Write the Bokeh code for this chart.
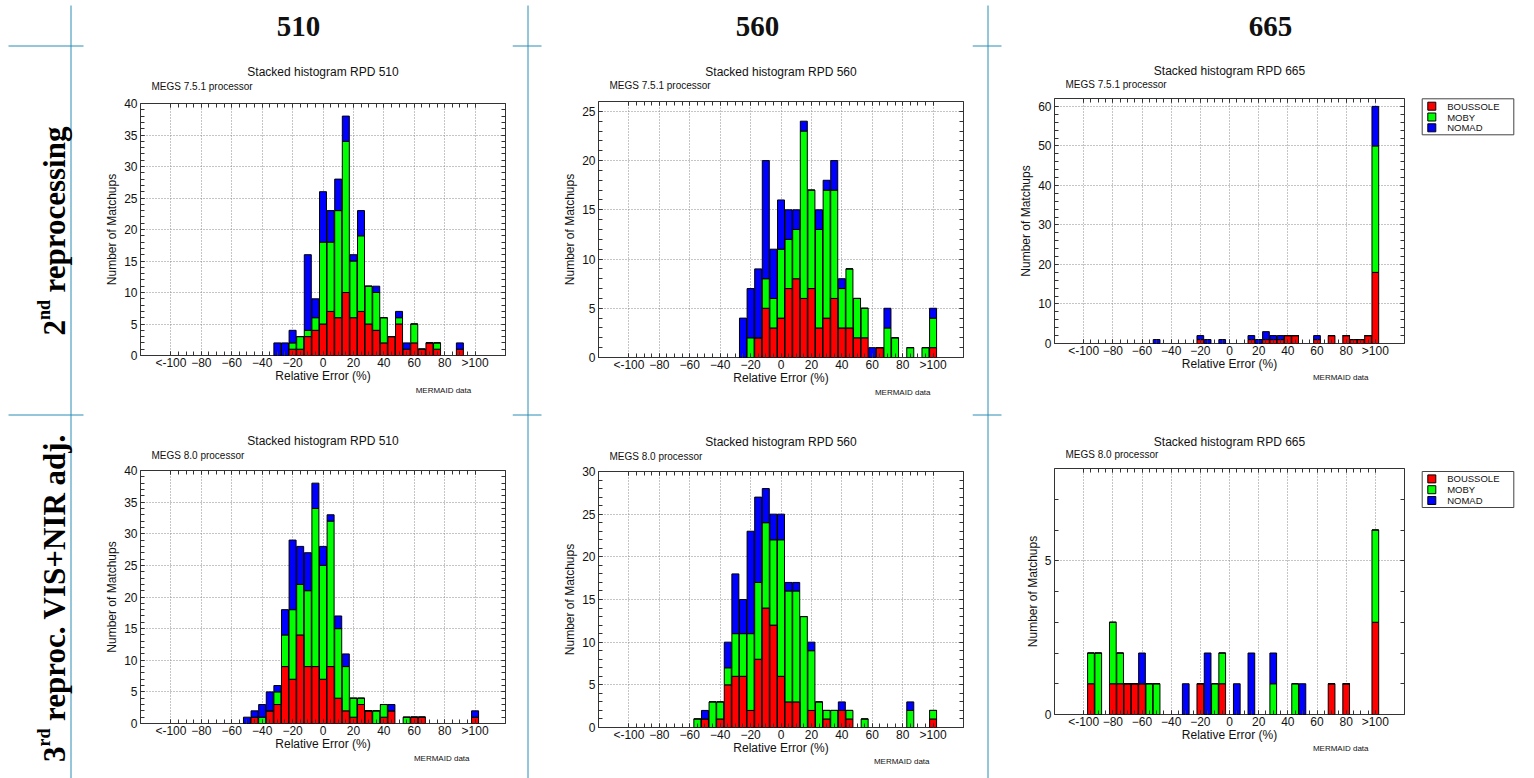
import math
from bokeh.plotting import figure
from bokeh.layouts import row, column
from bokeh.models import (Range1d, FixedTicker, LinearAxis, Grid,
                          ColumnDataSource, CustomJSTickFormatter)
from bokeh.core.properties import value
from bokeh.embed import file_html
from bokeh.resources import INLINE

# Matchup counts per 5 % relative-error bin (bin centre), split by in-situ site.

# 2nd reprocessing, MEGS 7.5.1, 510 nm
BINS_510_R2 = [-30, -25, -20, -15, -10, -5, 0, 5, 10, 15, 20, 25, 30, 35, 40, 45, 50, 55, 60, 65, 70, 75, 90]
BOUSSOLE_510_R2 = [0, 0, 1, 1, 3, 4, 5, 7, 6, 10, 6, 7, 5, 4, 2, 3, 5, 1, 2, 1, 2, 1, 1]
MOBY_510_R2 = [0, 0, 1, 2, 1, 2, 13, 11, 17, 24, 9, 12, 6, 6, 4, 0, 1, 0, 3, 0, 0, 1, 0]
NOMAD_510_R2 = [2, 2, 2, 0, 12, 3, 8, 5, 5, 4, 1, 4, 0, 1, 0, 0, 1, 1, 0, 0, 0, 0, 1]

# 2nd reprocessing, MEGS 7.5.1, 560 nm
BINS_560_R2 = [-25, -20, -15, -10, -5, 0, 5, 10, 15, 20, 25, 30, 35, 40, 45, 50, 55, 60, 65, 70, 75, 85, 95, 100]
BOUSSOLE_560_R2 = [0, 0, 2, 5, 3, 4, 7, 8, 6, 7, 3, 4, 6, 3, 3, 2, 2, 0, 1, 0, 0, 0, 0, 1]
MOBY_560_R2 = [0, 2, 0, 3, 3, 7, 5, 5, 17, 10, 10, 13, 11, 4, 6, 4, 3, 0, 0, 3, 2, 1, 1, 3]
NOMAD_560_R2 = [4, 5, 7, 12, 5, 5, 3, 2, 1, 0, 2, 1, 3, 1, 0, 0, 0, 1, 0, 2, 0, 0, 0, 1]

# 2nd reprocessing, MEGS 7.5.1, 665 nm
BINS_665_R2 = [-50, -20, -15, -5, 15, 20, 25, 30, 35, 40, 45, 60, 70, 80, 85, 90, 95, 100]
BOUSSOLE_665_R2 = [0, 1, 0, 0, 1, 0, 1, 1, 1, 2, 2, 1, 2, 2, 1, 1, 2, 18]
MOBY_665_R2 = [0, 0, 0, 0, 0, 0, 0, 0, 0, 0, 0, 0, 0, 0, 0, 0, 0, 32]
NOMAD_665_R2 = [1, 1, 1, 1, 1, 1, 2, 1, 1, 0, 0, 1, 0, 0, 0, 0, 0, 10]

# 3rd reprocessing (VIS+NIR adjustment), MEGS 8.0, 510 nm
BINS_510_R3 = [-50, -45, -40, -35, -30, -25, -20, -15, -10, -5, 0, 5, 10, 15, 20, 25, 30, 35, 40, 45, 55, 60, 65, 100]
BOUSSOLE_510_R3 = [0, 1, 0, 2, 3, 9, 7, 14, 9, 9, 7, 9, 4, 2, 1, 3, 2, 0, 1, 2, 0, 1, 1, 1]
MOBY_510_R3 = [0, 0, 1, 0, 2, 5, 11, 8, 12, 25, 18, 23, 11, 7, 3, 1, 0, 2, 2, 0, 1, 0, 0, 0]
NOMAD_510_R3 = [1, 1, 2, 3, 1, 4, 11, 6, 6, 4, 3, 1, 2, 2, 0, 0, 0, 0, 0, 1, 0, 0, 0, 1]

# 3rd reprocessing (VIS+NIR adjustment), MEGS 8.0, 560 nm
BINS_560_R3 = [-55, -50, -45, -40, -35, -30, -25, -20, -15, -10, -5, 0, 5, 10, 15, 20, 25, 30, 35, 40, 45, 55, 85, 100]
BOUSSOLE_560_R3 = [0, 1, 0, 1, 5, 6, 6, 2, 8, 14, 12, 6, 3, 3, 0, 2, 0, 1, 0, 2, 1, 0, 0, 1]
MOBY_560_R3 = [1, 0, 3, 2, 2, 5, 5, 9, 9, 10, 10, 16, 13, 13, 13, 7, 3, 1, 2, 0, 1, 1, 2, 1]
NOMAD_560_R3 = [0, 1, 0, 0, 3, 7, 4, 12, 10, 4, 3, 3, 1, 1, 0, 1, 0, 0, 0, 1, 0, 0, 1, 0]

# 3rd reprocessing (VIS+NIR adjustment), MEGS 8.0, 665 nm
BINS_665_R3 = [-95, -90, -80, -75, -70, -65, -60, -55, -50, -30, -20, -15, -10, -5, 5, 15, 30, 45, 50, 70, 80, 100]
BOUSSOLE_665_R3 = [1, 0, 1, 1, 1, 1, 1, 0, 0, 0, 1, 0, 0, 1, 0, 0, 0, 0, 0, 1, 1, 3]
MOBY_665_R3 = [1, 2, 2, 1, 0, 0, 0, 1, 1, 0, 0, 0, 1, 1, 0, 0, 1, 1, 0, 0, 0, 3]
NOMAD_665_R3 = [0, 0, 0, 0, 0, 0, 1, 0, 0, 1, 0, 2, 0, 0, 1, 2, 1, 0, 1, 0, 0, 0]

SITES = ["BOUSSOLE", "MOBY", "NOMAD"]
SITE_COLORS = ["#ff0000", "#00ff00", "#0000ff"]

X_TICKS = [-100, -80, -60, -40, -20, 0, 20, 40, 60, 80, 100]
X_TICK_LABELS = {-100: "<-100", 100: ">100"}
X_MINOR = list(range(-100, 101, 5))

BANDS = ["510", "560", "665"]
PROCESSORS = ["MEGS 7.5.1 processor", "MEGS 8.0 processor"]
TITLE_PREFIX = "Stacked histogram RPD "
DATA_NOTE = "MERMAID data"

# ---- styling ----
PAGE_H = 778
TEAL = "#2a8db3"
SANS = "Liberation Sans"
SERIF = "Liberation Serif"
INK = "#111111"
FRAME = "#333333"
GRID = "#8a8a8a"


def blank_canvas(width, height, left=0, right=0):
    f = figure(title=None, frame_width=width, frame_height=height,
               x_range=Range1d(0, width), y_range=Range1d(0, height),
               x_axis_type=None, y_axis_type=None, min_border=0,
               min_border_left=left, min_border_right=right,
               toolbar_location=None, tools="", output_backend="svg")
    f.outline_line_color = None
    return f


def text_strip(col, y0, height, items):
    """A white strip (same frame as the column's panels) holding texts placed in page pixels."""
    x0, left, fw, right = col
    f = blank_canvas(fw, height, left, right)
    fx = x0 + left
    for px, py, text, size, align, font, style in items:
        f.text(x=[px - fx], y=[height - (py - y0)], text=[text],
               text_font=value(font), text_font_size=size, text_font_style=style,
               text_align=align, text_baseline="middle", text_color=INK)
    return f


def stacked_panel(bins, boussole, moby, nomad, y_max, y_step, y_minor, col, top, fh, bottom):
    _, left, fw, right = col
    p = figure(title=None, frame_width=fw, frame_height=fh,
               min_border_left=left, min_border_right=right,
               min_border_top=top, min_border_bottom=bottom,
               x_range=Range1d(-120, 120), y_range=Range1d(0, y_max),
               x_axis_type=None, y_axis_type=None,
               toolbar_location=None, tools="", output_backend="svg")
    p.outline_line_color = FRAME
    p.outline_line_width = 1

    xt = FixedTicker(ticks=X_TICKS, minor_ticks=X_MINOR)
    y_top_tick = (y_max // y_step) * y_step
    yt = FixedTicker(ticks=list(range(0, y_top_tick + 1, y_step)),
                     minor_ticks=list(range(0, y_max + 1, y_minor)))

    ticks = dict(axis_line_color=None, major_tick_in=4, major_tick_out=0,
                 minor_tick_in=4, minor_tick_out=0,
                 major_tick_line_color=FRAME, minor_tick_line_color=FRAME)
    labels = dict(major_label_text_font=SANS, major_label_text_font_size="12px",
                  major_label_text_color=INK, axis_label_text_font=SANS,
                  axis_label_text_font_size="12px", axis_label_text_font_style="normal",
                  axis_label_text_color=INK)

    p.add_layout(LinearAxis(ticker=xt, axis_label="Relative Error (%)",
                            major_label_overrides=X_TICK_LABELS,
                            major_label_standoff=0, axis_label_standoff=-4,
                            **ticks, **labels), "below")
    p.add_layout(LinearAxis(ticker=yt, axis_label="Number of Matchups",
                            major_label_standoff=3, axis_label_standoff=2,
                            **ticks, **labels), "left")
    for side, t in (("above", xt), ("right", yt)):
        p.add_layout(LinearAxis(ticker=t, formatter=CustomJSTickFormatter(code="return ''"),
                                major_label_standoff=0, major_label_text_font_size="1px",
                                **ticks), side)

    p.add_layout(Grid(dimension=0, ticker=xt, grid_line_color=GRID,
                      grid_line_dash="1 2", grid_line_width=1))
    p.add_layout(Grid(dimension=1, ticker=yt, grid_line_color=GRID,
                      grid_line_dash="1 2", grid_line_width=1))

    src = ColumnDataSource(dict(x=bins, BOUSSOLE=boussole, MOBY=moby, NOMAD=nomad))
    p.vbar_stack(SITES, x="x", width=4.6, source=src,
                 fill_color=SITE_COLORS, line_color="black", line_width=1)
    return p


HEAD = ("29px", "center", SERIF, "bold")
TITLE = ("12px", "center", SANS, "normal")
SUB = ("10px", "left", SANS, "normal")
NOTE = ("8px", "right", SANS, "normal")


def item(x, y, text, style):
    return (x, y, text) + style


# column geometry: page x of column, left border, frame width, right border
COL1 = (90, 50, 365, 7)
COL2 = (542, 56, 365, 9)
COL3 = (1002, 52, 350, 4)

c1 = column(
    text_strip(COL1, 0, 95, [item(298, 26, BANDS[0], HEAD),
                             item(322.5, 71.5, TITLE_PREFIX + BANDS[0], TITLE),
                             item(151, 86, PROCESSORS[0], SUB)]),
    stacked_panel(BINS_510_R2, BOUSSOLE_510_R2, MOBY_510_R2, NOMAD_510_R2,
                  40, 5, 1, COL1, 8, 252, 29),
    text_strip(COL1, 384, 77, [item(470.7, 389.3, DATA_NOTE, NOTE),
                               item(322.5, 439, TITLE_PREFIX + BANDS[0], TITLE),
                               item(151, 454, PROCESSORS[1], SUB)]),
    stacked_panel(BINS_510_R3, BOUSSOLE_510_R3, MOBY_510_R3, NOMAD_510_R3,
                  40, 5, 1, COL1, 8, 253, 29),
    text_strip(COL1, 751, 27, [item(469, 755.5, DATA_NOTE, NOTE)]),
)
c2 = column(
    text_strip(COL2, 0, 93, [item(757, 26, BANDS[1], HEAD),
                             item(780.5, 71, TITLE_PREFIX + BANDS[1], TITLE),
                             item(609, 85, PROCESSORS[0], SUB)]),
    stacked_panel(BINS_560_R2, BOUSSOLE_560_R2, MOBY_560_R2, NOMAD_560_R2,
                  26, 5, 1, COL2, 8, 256, 29),
    text_strip(COL2, 386, 76, [item(930, 391, DATA_NOTE, NOTE),
                               item(780.5, 440, TITLE_PREFIX + BANDS[1], TITLE),
                               item(609, 455, PROCESSORS[1], SUB)]),
    stacked_panel(BINS_560_R3, BOUSSOLE_560_R3, MOBY_560_R3, NOMAD_560_R3,
                  30, 5, 1, COL2, 8, 256, 29),
    text_strip(COL2, 755, 23, [item(929, 759, DATA_NOTE, NOTE)]),
)
c3 = column(
    text_strip(COL3, 0, 90, [item(1270, 26, BANDS[2], HEAD),
                             item(1229, 70.7, TITLE_PREFIX + BANDS[2], TITLE),
                             item(1065, 84.3, PROCESSORS[0], SUB)]),
    stacked_panel(BINS_665_R2, BOUSSOLE_665_R2, MOBY_665_R2, NOMAD_665_R2,
                  62, 10, 2, COL3, 8, 245, 29),
    text_strip(COL3, 372, 87, [item(1368, 376, DATA_NOTE, NOTE),
                               item(1229, 440, TITLE_PREFIX + BANDS[2], TITLE),
                               item(1065, 453, PROCESSORS[1], SUB)]),
    stacked_panel(BINS_665_R3, BOUSSOLE_665_R3, MOBY_665_R3, NOMAD_665_R3,
                  8, 5, 1, COL3, 8, 246, 29),
    text_strip(COL3, 742, 36, [item(1368, 746, DATA_NOTE, NOTE)]),
)

# ---- site key, drawn to the right of the 665 nm panels ----
KEY_X0 = 1408
KEY_TOPS = [98.3, 471]            # page y of each key box
KEY_BOX = (1421.7, 1513.3, 36)    # left, right, height
KEY_SWATCH = (1427.3, 8)          # left, size
KEY_TEXT_X = 1446.7
KEY_FIRST, KEY_STEP = 7.4, 10.8

key = blank_canvas(1534 - KEY_X0, PAGE_H)
for box_top in KEY_TOPS:
    bl, br, bh = KEY_BOX
    key.quad(left=[bl - KEY_X0], right=[br - KEY_X0], top=[PAGE_H - box_top],
             bottom=[PAGE_H - box_top - bh], fill_color="white",
             line_color="#444444", line_width=1)
    ys = [PAGE_H - (box_top + KEY_FIRST + i * KEY_STEP) for i in range(len(SITES))]
    sl, ss = KEY_SWATCH
    key.quad(left=[sl - KEY_X0] * 3, right=[sl + ss - KEY_X0] * 3,
             top=[y + ss / 2 for y in ys], bottom=[y - ss / 2 for y in ys],
             fill_color=SITE_COLORS, line_color="black", line_width=1)
    key.text(x=[KEY_TEXT_X - KEY_X0] * 3, y=ys, text=SITES, text_font=value(SANS),
             text_font_size="9.5px", text_align="left", text_baseline="middle",
             text_color=INK)

# ---- row labels and table rules ----
row_labels = blank_canvas(90, PAGE_H)
row_labels.segment(x0=[70.5, 8, 8], y0=[PAGE_H - 5, PAGE_H - 45.5, PAGE_H - 414.5],
                   x1=[70.5, 83, 83], y1=[0, PAGE_H - 45.5, PAGE_H - 414.5],
                   line_color=TEAL, line_width=1)
big = dict(angle=math.pi / 2, text_font=value(SERIF), text_font_style="bold",
           text_align="left", text_baseline="alphabetic", text_color="black")
row_labels.text(x=[53.5, 53.5, 53.5, 53.5, 53.5],
                y=[PAGE_H - 335, PAGE_H - 292, PAGE_H - 761.5, PAGE_H - 720.5, PAGE_H - 485],
                text=["2", "reprocessing", "3", "reproc. VIS+NIR", "adj."],
                text_font_size="31px", **big)
row_labels.text(x=[43.5, 43.5], y=[PAGE_H - 319.5, PAGE_H - 746],
                text=["nd", "rd"], text_font_size="18px", **big)


def rule(width, x_line):
    f = blank_canvas(width, PAGE_H)
    f.segment(x0=[x_line, 0, 0], y0=[PAGE_H - 5, PAGE_H - 45.5, PAGE_H - 414.5],
              x1=[x_line, width - 1, width - 1], y1=[0, PAGE_H - 45.5, PAGE_H - 414.5],
              line_color=TEAL, line_width=1)
    return f


layout = row(row_labels, c1, rule(30, 15.5), c2, rule(30, 15.5), c3, key)

open("out.html", "w").write(file_html(layout, INLINE))
